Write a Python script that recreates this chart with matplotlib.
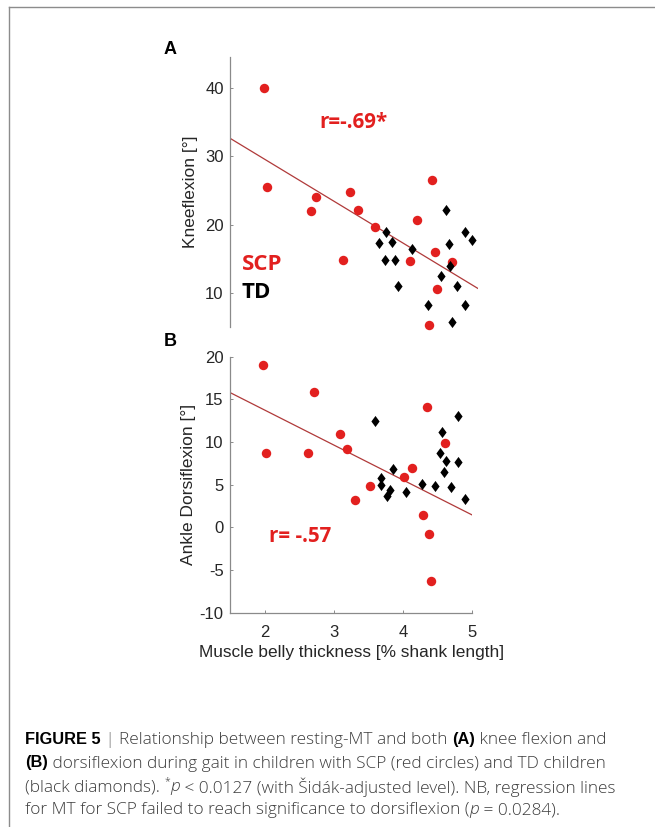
import matplotlib
matplotlib.use("Agg")
import matplotlib.pyplot as plt
from matplotlib.lines import Line2D

# ---------------- data ----------------
mt_scp = [1.97, 2.02, 2.63, 2.71, 3.09, 3.19, 3.30, 3.53, 4.02, 4.13, 4.29, 4.34, 4.38, 4.41, 4.61]
knee_scp = [40.0, 25.5, 22.0, 24.0, 14.8, 24.7, 22.1, 19.7, 14.7, 20.6, 5.4, 26.5, 16.0, 10.6, 14.5]
dorsi_scp = [19.0, 8.7, 8.75, 15.9, 10.9, 9.2, 3.2, 4.9, 5.9, 6.9, 1.5, 14.1, -0.8, -6.25, 9.85]

mt_td = [3.59, 3.675, 3.685, 3.77, 3.81, 3.855, 4.05, 4.28, 4.46, 4.53, 4.57, 4.59, 4.62, 4.69, 4.79, 4.80, 4.89]
knee_td = [17.3, 14.8, 18.95, 17.4, 14.8, 11.1, 16.5, 8.3, 12.5, 22.2, 17.2, 13.9, 5.8, 11.1, 8.3, 18.9, 17.7]
dorsi_td = [12.46, 4.96, 5.82, 3.71, 4.375, 6.8, 4.18, 5.12, 4.88, 8.67, 11.13, 6.52, 7.81, 4.69, 7.7, 13.1, 3.28]

# regression lines (end points)
line_a_x = [1.5, 4.975]
line_a_y = [32.6, 10.7]
line_b_x = [1.5, 5.0]
line_b_y = [15.8, 1.45]

yticks_a = [10, 20, 30, 40]
yticks_b = [-10, -5, 0, 5, 10, 15, 20]
xticks_b = [2, 3, 4, 5]

# ---------------- style ----------------
W, H = 655, 827
plt.rcParams['font.family'] = ['Liberation Sans', 'DejaVu Sans']
plt.rcParams['axes.unicode_minus'] = False
fig = plt.figure(figsize=(W / 100, H / 100), dpi=100)

RED = '#e2201f'
LINE = '#b03a3a'
SPINE = '#8a8a8a'
TXT = '#262626'
ANN = ['Open Sans', 'DejaVu Sans']

diamond = [(0, 1), (0.74, 0), (0, -1), (-0.74, 0), (0, 1)]


def fx(px):
    return px / W


def fy(py):
    return 1 - py / H


def style_axes(ax, show_x):
    for s in ['top', 'right']:
        ax.spines[s].set_visible(False)
    ax.spines['left'].set_color(SPINE)
    ax.spines['left'].set_linewidth(0.9)
    if show_x:
        ax.spines['bottom'].set_color(SPINE)
        ax.spines['bottom'].set_linewidth(0.9)
    else:
        ax.spines['bottom'].set_visible(False)
        ax.set_xticks([])
    ax.tick_params(direction='in', length=2.5, width=0.7, color=SPINE,
                   labelsize=12, labelcolor=TXT, pad=4.5)
    ax.tick_params(axis='x', pad=8.5)
    ax.patch.set_alpha(0)


# Panel A
axA = fig.add_axes([fx(230), fy(326.7), 247.7 / W, 270 / H])
axA.plot(line_a_x, line_a_y, color=LINE, lw=0.9, zorder=1)
axA.plot(mt_scp, knee_scp, 'o', color=RED, ms=6.8, mew=0, zorder=2, clip_on=False)
axA.plot(mt_td, knee_td, marker=diamond, ls='none', color='black', ms=8.0, mew=0, zorder=3, clip_on=False)
axA.set_xlim(1.5, 4.975)
axA.set_ylim(5.1, 44.5)
axA.set_yticks(yticks_a)
style_axes(axA, False)
axA.set_ylabel('Kneeflexion [°]', fontsize=12.5, color=TXT, labelpad=5)

# Panel B
axB = fig.add_axes([fx(230), fy(612.7), 242.2 / W, 256 / H])
axB.plot(line_b_x, line_b_y, color=LINE, lw=0.9, zorder=1)
axB.plot(mt_scp, dorsi_scp, 'o', color=RED, ms=6.8, mew=0, zorder=2, clip_on=False)
axB.plot(mt_td, dorsi_td, marker=diamond, ls='none', color='black', ms=8.0, mew=0, zorder=3, clip_on=False)
axB.set_xlim(1.5, 5.0)
axB.set_ylim(-10, 20)
axB.set_yticks(yticks_b)
axB.set_xticks(xticks_b)
style_axes(axB, True)
axB.set_ylabel('Ankle Dorsiflexion [°]', fontsize=12.5, color=TXT, labelpad=3)
axB.set_xlabel('Muscle belly thickness [% shank length]', fontsize=12.4, color=TXT, labelpad=4)

# panel letters
fig.text(fx(170.5), fy(50), 'A', fontsize=13, fontweight='bold', ha='center', va='center')
fig.text(fx(170.5), fy(341.7), 'B', fontsize=13, fontweight='bold', ha='center', va='center')

# annotations
fig.text(fx(353), fy(122), 'r=-.69*', family=ANN, fontsize=14.8,
         fontweight='bold', color=RED, ha='center', va='center')
fig.text(fx(300), fy(536.7), 'r= -.57', family=ANN, fontsize=14.8,
         fontweight='bold', color=RED, ha='center', va='center')
fig.text(fx(241.5), fy(264), 'SCP', family=ANN, fontsize=16,
         fontweight='bold', color=RED, ha='left', va='center')
fig.text(fx(241.5), fy(292), 'TD', family=ANN, fontsize=16,
         fontweight='bold', color='black', ha='left', va='center')

# figure frame (left and top edges)
fig.add_artist(Line2D([fx(9), fx(9)], [fy(7), 0], transform=fig.transFigure, color='#8c8c8c', lw=1.0))
fig.add_artist(Line2D([fx(9), 1], [fy(7), fy(7)], transform=fig.transFigure, color='#8c8c8c', lw=1.0))

# caption with mixed styles
CAP = '#3c3c3c'
REG = 12.4
BOLD = 11.8
caption_lines = [
    [("FIGURE 5", 'bold', 'normal', 'black', 0), (" | ", 'normal', 'normal', '#777777', 0),
     ("Relationship between resting-MT and both ", 'normal', 'normal', CAP, 0),
     ("(A)", 'bold', 'normal', 'black', 0), (" knee flexion and", 'normal', 'normal', CAP, 0)],
    [("(B)", 'bold', 'normal', 'black', 0),
     (" dorsiflexion during gait in children with SCP (red circles) and TD children", 'normal', 'normal', CAP, 0)],
    [("(black diamonds). ", 'normal', 'normal', CAP, 0), ("*", 'normal', 'normal', CAP, 1),
     ("p", 'normal', 'italic', CAP, 0),
     (" < 0.0127 (with Šidák-adjusted level). NB, regression lines", 'normal', 'normal', CAP, 0)],
    [("for MT for SCP failed to reach significance to dorsiflexion (", 'normal', 'normal', CAP, 0),
     ("p", 'normal', 'italic', CAP, 0), (" = 0.0284).", 'normal', 'normal', CAP, 0)],
]
line_ys = [738, 761.5, 785, 808.5]
fig.canvas.draw()
renderer = fig.canvas.get_renderer()
for runs, ly in zip(caption_lines, line_ys):
    x = 25
    for text, weight, style, color, sup in runs:
        if weight == 'bold':
            fam, size, wt = ['Liberation Sans', 'DejaVu Sans'], BOLD, 'bold'
        else:
            fam, size, wt = ['Open Sans', 'DejaVu Sans'], REG, 'light'
        if sup:
            size *= 0.6
        yy = ly - (5 if sup else 0)
        t = fig.text(fx(x), fy(yy), text, family=fam, fontsize=size, fontweight=wt, fontstyle=style,
                     color=color, ha='left', va='center_baseline')
        bb = t.get_window_extent(renderer)
        x += bb.width

fig.savefig('out.png', dpi=100)
